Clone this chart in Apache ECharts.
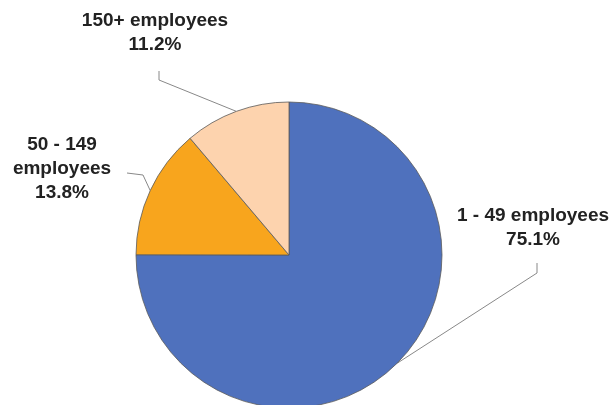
<!DOCTYPE html>
<html><head><meta charset="utf-8">
<script src="https://cdn.jsdelivr.net/npm/echarts@6/dist/echarts.min.js"></script>
<style>html,body{margin:0;padding:0;background:#fff}#c{width:613px;height:405px}</style>
</head><body><div id="c"></div>
<script>
const categories = ['1 - 49 employees', '50 - 149\nemployees', '150+ employees'];
const values = [75.1, 13.8, 11.2];
const colors = ['#4F71BD', '#F8A51D', '#FDD3AE'];

// label placement (style only)
const labelPos = [
  {x: 533, y: 228, bend: [537, 273], end: [537, 263]},
  {x: 62, y: 169, bend: [143, 175], end: [127, 173]},
  {x: 155, y: 33, bend: [159, 80], end: [159, 71]}
];

const chart = echarts.init(document.getElementById('c'), null, {renderer: 'canvas'});
chart.setOption({
  animation: false,
  series: [{
    type: 'pie',
    center: [289, 255],
    radius: 153,
    startAngle: 90,
    clockwise: true,
    data: categories.map((c, i) => ({name: c, value: values[i], itemStyle: {color: colors[i]}})),
    itemStyle: {borderColor: '#5a5a5a', borderWidth: 0.8},
    label: {
      show: true,
      formatter: p => p.name + '\n' + p.value.toFixed(1) + '%',
      fontFamily: 'Liberation Sans, Arial, sans-serif',
      fontWeight: 'bold',
      fontSize: 19,
      lineHeight: 24,
      color: '#222',
      align: 'center',
      overflow: 'none',
      width: 200
    },
    labelLine: {show: true, lineStyle: {color: '#888', width: 1}},
    labelLayout: function (params) {
      const lp = labelPos[params.dataIndex];
      const pts = params.labelLinePoints;
      return {
        x: lp.x, y: lp.y, align: 'center', verticalAlign: 'middle',
        labelLinePoints: [pts[0], lp.bend, lp.end]
      };
    }
  }]
});
</script></body></html>
